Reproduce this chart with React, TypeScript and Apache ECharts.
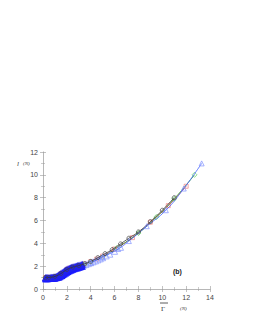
import React, { useEffect, useRef } from "react";
import * as echarts from "echarts";

const xTicks = [0, 2, 4, 6, 8, 10, 12, 14];
const yTicks = [0, 2, 4, 6, 8, 10, 12];

// black circles
const blackX = [0.2, 0.5, 1.0, 1.5, 2.0, 2.5, 3.0, 3.5, 4.0, 4.6, 5.2, 5.8, 6.5, 7.2, 8.0, 9.0, 10.0, 11.0];
const blackY = [1.0, 1.02, 1.1, 1.35, 1.7, 1.92, 2.05, 2.22, 2.42, 2.75, 3.1, 3.45, 3.95, 4.45, 5.0, 5.9, 6.9, 8.0];
// red squares
const redX = [0.2, 0.5, 1.0, 1.5, 2.0, 2.2, 2.5, 3.0, 3.5, 4.0, 4.5, 5.0, 6.0, 7.5, 9.0, 10.5, 12.0];
const redY = [1.0, 1.02, 1.1, 1.35, 1.72, 1.82, 1.9, 2.02, 2.2, 2.4, 2.62, 2.88, 3.5, 4.5, 5.85, 7.3, 9.0];
// green diamonds
const greenX = [0.2, 0.5, 1.0, 1.5, 2.0, 2.5, 3.0, 3.5, 4.0, 5.0, 6.2, 8.0, 9.5, 11.0, 12.7];
const greenY = [0.98, 1.0, 1.07, 1.3, 1.62, 1.85, 2.0, 2.15, 2.35, 2.82, 3.6, 4.9, 6.3, 7.9, 10.0];
// blue triangles (sparse, large values)
const blueX = [4.0, 5.0, 6.3, 7.2, 8.7, 10.3, 11.8, 13.3];
const blueY = [2.3, 2.8, 3.5, 4.2, 5.5, 6.9, 8.8, 11.0];
// dense blue band near the origin
const denseX = [0.2, 0.3, 0.4, 0.5, 0.6, 0.7, 0.8, 0.9, 1.0, 1.1, 1.2, 1.3, 1.4, 1.5, 1.6, 1.7, 1.8, 1.9, 2.0, 2.1, 2.2, 2.3, 2.4, 2.5, 2.6, 2.7, 2.8, 2.9, 3.0, 3.1, 3.2, 3.3];
const denseYUpper = [1.0, 1.0, 1.0, 1.01, 1.02, 1.03, 1.04, 1.06, 1.08, 1.12, 1.17, 1.23, 1.3, 1.37, 1.44, 1.52, 1.6, 1.66, 1.72, 1.77, 1.82, 1.86, 1.9, 1.93, 1.96, 1.99, 2.02, 2.05, 2.08, 2.11, 2.14, 2.17];
const denseYLower = [0.9, 0.9, 0.9, 0.91, 0.92, 0.92, 0.93, 0.94, 0.95, 0.98, 1.0, 1.04, 1.08, 1.13, 1.19, 1.26, 1.33, 1.4, 1.47, 1.53, 1.59, 1.64, 1.69, 1.73, 1.77, 1.81, 1.84, 1.87, 1.9, 1.93, 1.96, 1.99];
// lighter blue triangles continuing the band
const lightX = [3.4, 3.6, 3.8, 4.0, 4.2, 4.4, 4.6, 4.8, 5.0, 5.3, 5.6, 6.0, 6.5];
const lightY = [2.08, 2.14, 2.22, 2.3, 2.38, 2.46, 2.55, 2.64, 2.74, 2.9, 3.05, 3.3, 3.65];

const zip = (xs: number[], ys: number[]) => xs.map((x, i) => [x, ys[i]]);

export default function App() {
  const ref = useRef<HTMLDivElement>(null);
  useEffect(() => {
    const chart = echarts.init(ref.current!, null, { renderer: "svg" });
    const tickLabel = { color: "#444", fontSize: 7, fontFamily: "Liberation Sans", margin: 5 };
    const axisCommon = {
      type: "value" as const,
      axisLine: { show: true, lineStyle: { color: "#aaa", width: 0.6 } },
      axisTick: { show: true, inside: true, length: 3, lineStyle: { color: "#999", width: 0.6 } },
      minorTick: { show: true, splitNumber: 2, length: 2, lineStyle: { color: "#999", width: 0.5 } },
      splitLine: { show: false },
    };
    chart.setOption({
      animation: false,
      grid: { left: 35, top: 144, width: 167, height: 137, show: false },
      xAxis: [
        { ...axisCommon, min: 0, max: 14, interval: 2, position: "bottom", axisLabel: tickLabel },
        { ...axisCommon, min: 0, max: 14, interval: 2, position: "top", axisLabel: { show: false } },
      ],
      yAxis: [
        { ...axisCommon, min: 0, max: 12, interval: 2, position: "left", axisLabel: tickLabel },
        { ...axisCommon, min: 0, max: 12, interval: 2, position: "right", axisLabel: { show: false } },
      ],
      series: [
        {
          type: "line", data: zip(lightX, lightY), symbol: "triangle", symbolSize: 6,
          lineStyle: { width: 0 }, itemStyle: { color: "transparent", borderColor: "#8fa0ff", borderWidth: 0.8 }, z: 3,
        },
        {
          type: "line", data: zip(denseX, denseYLower), symbol: "triangle", symbolSize: 7,
          lineStyle: { width: 0 }, itemStyle: { color: "#1a1aff" }, z: 3,
        },
        {
          type: "line", data: zip(denseX, denseYUpper), symbol: "triangle", symbolSize: 7,
          lineStyle: { width: 0 }, itemStyle: { color: "#2020f0" }, z: 3,
        },
        {
          type: "line", data: zip(redX, redY), smooth: true, symbol: "rect", symbolSize: 4,
          lineStyle: { width: 0.8, color: "#d03030" },
          itemStyle: { color: "transparent", borderColor: "#f08080", borderWidth: 0.7 }, z: 2,
        },
        {
          type: "line", data: zip(greenX, greenY), smooth: true, symbol: "diamond", symbolSize: 5,
          lineStyle: { width: 0.8, color: "#30a030" },
          itemStyle: { color: "transparent", borderColor: "#60d060", borderWidth: 0.7 }, z: 2,
        },
        {
          type: "line", data: zip(blackX, blackY), smooth: true, symbol: "circle", symbolSize: 4,
          lineStyle: { width: 0.8, color: "#333" },
          itemStyle: { color: "transparent", borderColor: "#444", borderWidth: 0.7 }, z: 4,
        },
        {
          type: "line", data: zip(blueX, blueY), smooth: true, symbol: "triangle", symbolSize: 5,
          lineStyle: { width: 0.8, color: "#4060ff" },
          itemStyle: { color: "transparent", borderColor: "#8090ff", borderWidth: 0.7 }, z: 4,
        },
      ],
      graphic: [
        { type: "text", left: 9, top: 152, style: { text: "l", fontSize: 7, fontStyle: "italic", fill: "#333", fontFamily: "Liberation Serif" } },
        { type: "text", left: 15, top: 153, style: { text: "(N)", fontSize: 5, fontStyle: "italic", fill: "#333", fontFamily: "Liberation Serif" } },
        { type: "line", shape: { x1: 152, y1: 295, x2: 160, y2: 295 }, style: { stroke: "#333", lineWidth: 0.8 } },
        { type: "text", left: 153, top: 297, style: { text: "Γ", fontSize: 7, fill: "#333", fontFamily: "Liberation Serif" } },
        { type: "text", left: 172, top: 298, style: { text: "(N)", fontSize: 5, fontStyle: "italic", fill: "#333", fontFamily: "Liberation Serif" } },
        { type: "text", left: 165, top: 260, style: { text: "(b)", fontSize: 7, fontWeight: "bold", fill: "#222", fontFamily: "Liberation Sans" } },
      ],
    });
    return () => chart.dispose();
  }, []);
  return <div ref={ref} style={{ width: 237, height: 311 }} />;
}
